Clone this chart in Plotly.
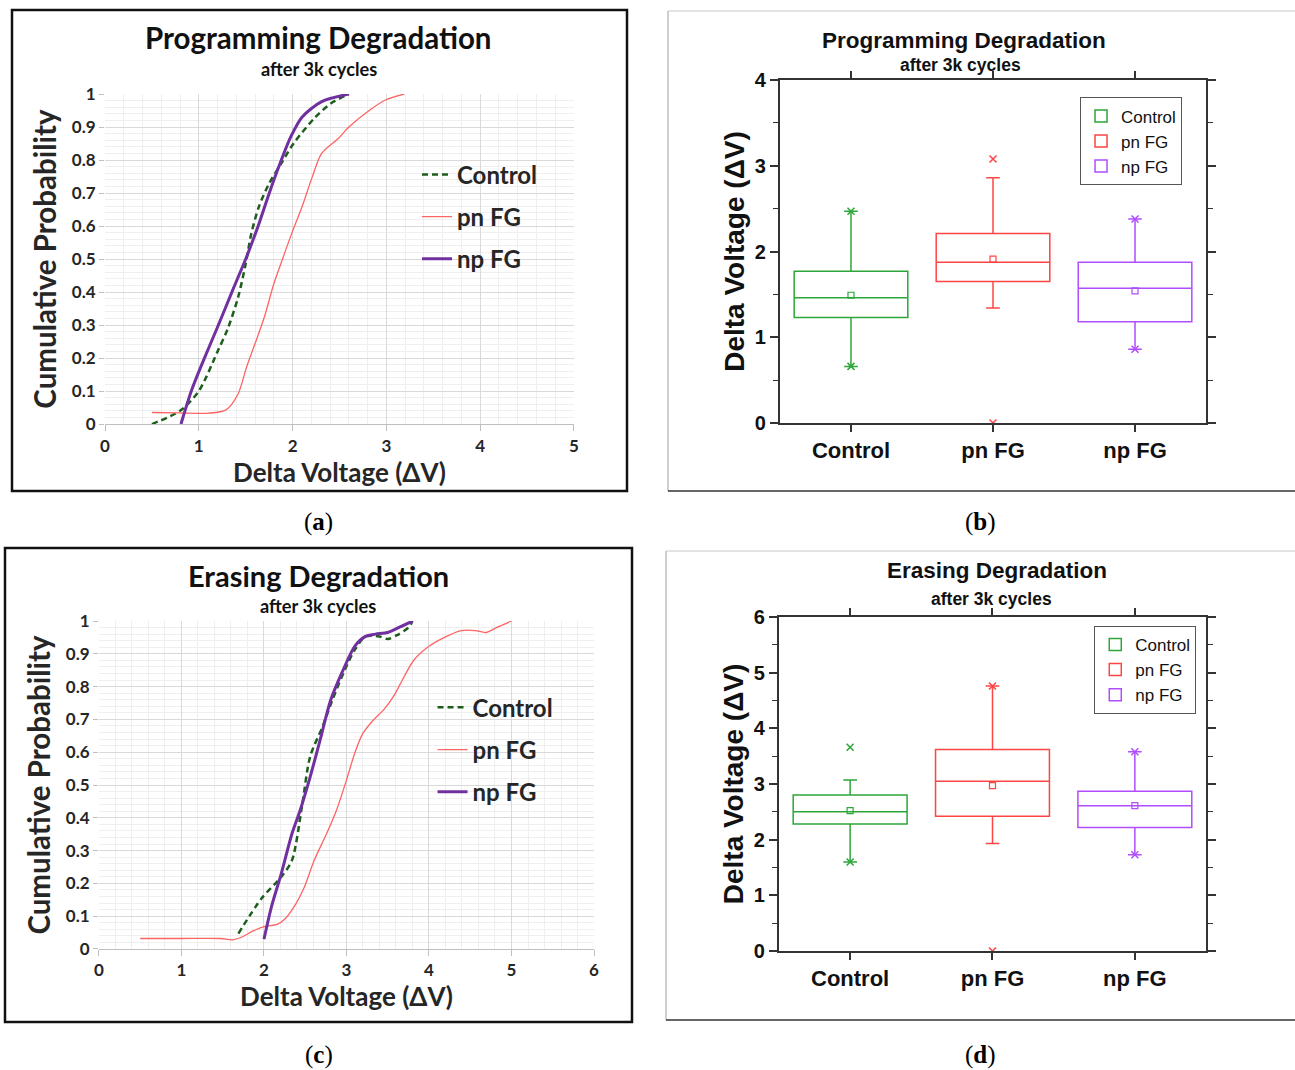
import plotly.graph_objects as go

# ---------------- data ----------------
# Panel (a): Programming degradation CDFs
a_ctrl_x = [0.5, 0.8, 1.0, 1.2, 1.31, 1.42, 1.5, 1.56, 1.64, 1.75, 1.88, 2.01, 2.23, 2.41, 2.6]
a_ctrl_y = [0.0, 0.04, 0.10, 0.22, 0.29, 0.385, 0.486, 0.577, 0.658, 0.729, 0.79, 0.85, 0.926, 0.972, 1.0]
a_pn_x = [0.5, 0.8, 1.1, 1.29, 1.42, 1.51, 1.6, 1.7, 1.8, 1.9, 1.99, 2.1, 2.21, 2.31, 2.49, 2.6, 2.82, 2.99, 3.19]
a_pn_y = [0.035, 0.034, 0.033, 0.043, 0.092, 0.173, 0.244, 0.325, 0.425, 0.506, 0.577, 0.658, 0.749, 0.82, 0.866, 0.9, 0.951, 0.982, 1.0]
a_np_x = [0.81, 0.92, 1.05, 1.2, 1.36, 1.51, 1.63, 1.75, 1.88, 1.98, 2.1, 2.31, 2.6]
a_np_y = [0.0, 0.10, 0.193, 0.294, 0.405, 0.507, 0.598, 0.699, 0.80, 0.87, 0.93, 0.977, 1.0]

# Panel (c): Erasing degradation CDFs
c_ctrl_x = [1.69, 1.97, 2.21, 2.34, 2.46, 2.56, 2.71, 2.83, 2.98, 3.1, 3.23, 3.4, 3.5, 3.62, 3.75, 3.8]
c_ctrl_y = [0.047, 0.154, 0.22, 0.271, 0.434, 0.587, 0.678, 0.76, 0.851, 0.912, 0.953, 0.953, 0.945, 0.958, 0.98, 1.0]
c_pn_x = [0.5, 1.0, 1.47, 1.62, 1.72, 1.87, 2.01, 2.16, 2.26, 2.39, 2.49, 2.61, 2.76, 2.88, 3.0, 3.1, 3.2,
          3.33, 3.45, 3.57, 3.7, 3.82, 4.0, 4.17, 4.39, 4.56, 4.69, 4.81, 5.0]
c_pn_y = [0.032, 0.032, 0.032, 0.028, 0.035, 0.055, 0.069, 0.075, 0.093, 0.139, 0.189, 0.271, 0.352, 0.424,
          0.515, 0.597, 0.658, 0.699, 0.729, 0.77, 0.831, 0.882, 0.923, 0.948, 0.971, 0.971, 0.965, 0.979, 1.0]
c_np_x = [2.0, 2.09, 2.21, 2.34, 2.44, 2.56, 2.68, 2.81, 2.96, 3.1, 3.23, 3.35, 3.5, 3.65, 3.8]
c_np_y = [0.03, 0.128, 0.23, 0.352, 0.424, 0.525, 0.637, 0.76, 0.851, 0.923, 0.953, 0.96, 0.965, 0.982, 1.0]

# Panels (b) and (d): box statistics
cats = ["Control", "pn FG", "np FG"]
b_q1 = [1.23, 1.65, 1.18]
b_med = [1.46, 1.875, 1.57]
b_q3 = [1.77, 2.21, 1.875]
b_lo = [0.66, 1.34, 0.86]
b_hi = [2.47, 2.86, 2.38]
b_mean = [1.49, 1.91, 1.54]
b_max = [2.47, 3.08, 2.38]
b_min = [0.66, 0.0, 0.86]

d_q1 = [2.28, 2.42, 2.22]
d_med = [2.50, 3.05, 2.61]
d_q3 = [2.80, 3.62, 2.87]
d_lo = [1.60, 1.93, 1.73]
d_hi = [3.07, 4.76, 3.58]
d_mean = [2.52, 2.97, 2.61]
d_max = [3.66, 4.76, 3.58]
d_min = [1.60, 0.0, 1.73]

# ---------------- styles ----------------
CAL = "Lato, 'Open Sans', sans-serif"
ARI = "'Liberation Sans', Arial, sans-serif"
SER = "'Liberation Serif', 'Times New Roman', serif"
GREEN_D = "#1d5e1d"
RED_L = "#ff6464"
PURPLE = "#7030a0"
box_colors = ["#2ca639", "#ff4444", "#b04dff"]

fig = go.Figure()

def cdf(x, y, name, color, width, dash, xa, ya, leg, grp):
    fig.add_trace(go.Scatter(x=x, y=y, name="<b>" + name + "</b>", mode="lines",
                             line=dict(color=color, width=width, dash=dash, shape="spline", smoothing=0.8),
                             xaxis=xa, yaxis=ya, legend=leg, legendgroup=grp))

cdf(a_ctrl_x, a_ctrl_y, "Control", GREEN_D, 2.5, "6px,4px", "x", "y", "legend", "a1")
cdf(a_pn_x, a_pn_y, "pn FG", RED_L, 1.3, "solid", "x", "y", "legend", "a2")
cdf(a_np_x, a_np_y, "np FG", PURPLE, 3, "solid", "x", "y", "legend", "a3")

cdf(c_ctrl_x, c_ctrl_y, "Control", GREEN_D, 2.5, "6px,4px", "x3", "y3", "legend3", "c1")
cdf(c_pn_x, c_pn_y, "pn FG", RED_L, 1.3, "solid", "x3", "y3", "legend3", "c2")
cdf(c_np_x, c_np_y, "np FG", PURPLE, 3, "solid", "x3", "y3", "legend3", "c3")

def boxes(q1, med, q3, lo, hi, mean, mx, mn, xa, ya, leg):
    for i, c in enumerate(cats):
        fig.add_trace(go.Box(x=[c], q1=[q1[i]], median=[med[i]], q3=[q3[i]],
                             lowerfence=[lo[i]], upperfence=[hi[i]], name=c,
                             width=0.8, whiskerwidth=0.12, fillcolor="rgba(0,0,0,0)",
                             line=dict(color=box_colors[i], width=1.5), boxpoints=False,
                             xaxis=xa, yaxis=ya, legend=leg))
    fig.add_trace(go.Scatter(x=cats, y=mean, mode="markers", showlegend=False, xaxis=xa, yaxis=ya,
                             marker=dict(symbol="square-open", size=6, color=box_colors,
                                         line=dict(color=box_colors, width=1.2))))
    fig.add_trace(go.Scatter(x=cats, y=mx, mode="markers", showlegend=False, xaxis=xa, yaxis=ya,
                             marker=dict(symbol="x-thin-open", size=7, color=box_colors,
                                         line=dict(color=box_colors, width=1.5))))
    fig.add_trace(go.Scatter(x=cats, y=mn, mode="markers", showlegend=False, xaxis=xa, yaxis=ya,
                             marker=dict(symbol="x-thin-open", size=7, color=box_colors,
                                         line=dict(color=box_colors, width=1.5))))

boxes(b_q1, b_med, b_q3, b_lo, b_hi, b_mean, b_max, b_min, "x2", "y2", "legend2")
boxes(d_q1, d_med, d_q3, d_lo, d_hi, d_mean, d_max, d_min, "x4", "y4", "legend4")

# ---------------- axes ----------------
def cdf_x(dom, rng, anchor):
    return dict(domain=dom, range=rng, anchor=anchor, dtick=1, tick0=0, automargin=False,
                showgrid=True, gridcolor="#d9d9d9", gridwidth=1,
                minor=dict(dtick=0.2, showgrid=True, gridcolor="#efefef", gridwidth=1),
                showline=True, linecolor="#bfbfbf", linewidth=1.2,
                ticks="outside", ticklen=6, tickcolor="#bfbfbf", zeroline=False,
                tickfont=dict(family=CAL, size=17, color="#262626"),
                tickprefix="<b>", ticksuffix="</b>",
                title=dict(text="<b>Delta Voltage (ΔV)</b>", font=dict(family=CAL, size=26, color="#262626"),
                           standoff=5))

def cdf_y(dom, anchor):
    return dict(domain=dom, range=[0, 1], anchor=anchor, dtick=0.1, tick0=0, automargin=False,
                showgrid=True, gridcolor="#d9d9d9", gridwidth=1,
                minor=dict(dtick=0.02, showgrid=True, gridcolor="#efefef", gridwidth=1),
                showline=False, ticks="outside", ticklen=5, tickcolor="#bfbfbf", zeroline=False,
                tickfont=dict(family=CAL, size=17, color="#262626"),
                tickprefix="<b>", ticksuffix="</b>",
                title=dict(text="<b>Cumulative Probability</b>", font=dict(family=CAL, size=29.5, color="#262626"),
                           standoff=6))

def box_x(dom, anchor):
    return dict(domain=dom, type="category", range=[-0.5, 2.5], anchor=anchor, automargin=False,
                showline=True, linecolor="#333333", linewidth=2, mirror="ticks",
                ticks="outside", ticklen=7, tickwidth=1.5, tickcolor="#333333", showgrid=False,
                tickfont=dict(family=ARI, size=22, color="#111111"),
                tickprefix="<b>", ticksuffix="</b>")

def box_y(dom, rng, anchor):
    return dict(domain=dom, range=rng, anchor=anchor, dtick=1, tick0=0, automargin=False,
                showline=True, linecolor="#333333", linewidth=2, mirror="ticks",
                ticks="outside", ticklen=8, tickwidth=1.5, tickcolor="#333333",
                minor=dict(dtick=0.5, ticks="outside", ticklen=5, tickwidth=1.2, tickcolor="#333333"),
                showgrid=False, zeroline=False,
                tickfont=dict(family=ARI, size=20, color="#111111"),
                tickprefix="<b>", ticksuffix="</b>",
                title=dict(text="<b>Delta Voltage (ΔV)</b>", font=dict(family=ARI, size=28, color="#111111"),
                           standoff=2))

fig.update_layout(
    width=1295, height=1070, margin=dict(l=0, r=0, t=0, b=0, pad=0, autoexpand=False),
    paper_bgcolor="white", plot_bgcolor="white", boxmode="overlay",
    xaxis=cdf_x([0.0811, 0.4432], [0, 5], "y"),
    yaxis=cdf_y([0.6037, 0.9121], "x"),
    xaxis3=cdf_x([0.0764, 0.4587], [0, 6], "y3"),
    yaxis3=cdf_y([0.1131, 0.4196], "x3"),
    xaxis2=box_x([0.6023, 0.9313], "y2"),
    yaxis2=box_y([0.6047, 0.9252], [0, 4], "x2"),
    xaxis4=box_x([0.6015, 0.9313], "y4"),
    yaxis4=box_y([0.1112, 0.4234], [0, 6], "x4"),
    legend=dict(x=0.322, y=0.8576, xanchor="left", yanchor="top", bgcolor="rgba(0,0,0,0)",
                font=dict(family=CAL, size=24, color="#262626"), tracegroupgap=8, itemwidth=30),
    legend3=dict(x=0.334, y=0.3596, xanchor="left", yanchor="top", bgcolor="rgba(0,0,0,0)",
                 font=dict(family=CAL, size=24, color="#262626"), tracegroupgap=8, itemwidth=30),
    legend2=dict(x=0.834, y=0.909, xanchor="left", yanchor="top", bgcolor="white",
                 bordercolor="#555555", borderwidth=1, font=dict(family=ARI, size=17, color="#111111"),
                 tracegroupgap=0),
    legend4=dict(x=0.845, y=0.415, xanchor="left", yanchor="top", bgcolor="white",
                 bordercolor="#555555", borderwidth=1, font=dict(family=ARI, size=17, color="#111111"),
                 tracegroupgap=0),
)

# ---------------- titles / captions ----------------
def ann(text, x, y, family, size, color="#111111"):
    fig.add_annotation(text=text, x=x, y=y, xref="paper", yref="paper", showarrow=False,
                       xanchor="center", yanchor="middle", font=dict(family=family, size=size, color=color))

ann("<b>Programming Degradation</b>", 0.2463, 0.9645, CAL, 29.5)
ann("<b>after 3k cycles</b>", 0.2463, 0.9355, CAL, 18.2)
ann("<b>Erasing Degradation</b>", 0.2456, 0.4617, CAL, 29)
ann("<b>after 3k cycles</b>", 0.2456, 0.4336, CAL, 18.2)
ann("<b>Programming Degradation</b>", 0.7444, 0.9626, ARI, 22.5)
ann("<b>after 3k cycles</b>", 0.7420, 0.9393, ARI, 17.5)
ann("<b>Erasing Degradation</b>", 0.7699, 0.4664, ARI, 22.5)
ann("<b>after 3k cycles</b>", 0.7653, 0.4402, ARI, 17.5)
ann("(<b>a</b>)", 0.2463, 0.5121, SER, 25, "#000000")
ann("(<b>b</b>)", 0.7568, 0.5121, SER, 25, "#000000")
ann("(<b>c</b>)", 0.2463, 0.014, SER, 25, "#000000")
ann("(<b>d</b>)", 0.7568, 0.014, SER, 25, "#000000")

# ---------------- panel frames ----------------
def px(xp):
    return xp / 1295

def py(yp):
    return 1 - yp / 1070

fig.add_shape(type="rect", xref="paper", yref="paper", x0=px(12), x1=px(627), y0=py(491), y1=py(10),
              line=dict(color="#111111", width=2.5))
fig.add_shape(type="rect", xref="paper", yref="paper", x0=px(5), x1=px(632), y0=py(1022), y1=py(548),
              line=dict(color="#111111", width=2.5))
for (x0, ytop, ybot) in [(668, 11, 491), (666, 551, 1020)]:
    fig.add_shape(type="line", xref="paper", yref="paper", x0=px(x0), x1=px(x0), y0=py(ytop), y1=py(ybot),
                  line=dict(color="#b0b0b0", width=1.2))
    fig.add_shape(type="line", xref="paper", yref="paper", x0=px(x0), x1=1, y0=py(ytop), y1=py(ytop),
                  line=dict(color="#c8c8c8", width=1.2))
    fig.add_shape(type="line", xref="paper", yref="paper", x0=px(x0), x1=1, y0=py(ybot), y1=py(ybot),
                  line=dict(color="#333333", width=1.5))

fig.write_html("out.html")
